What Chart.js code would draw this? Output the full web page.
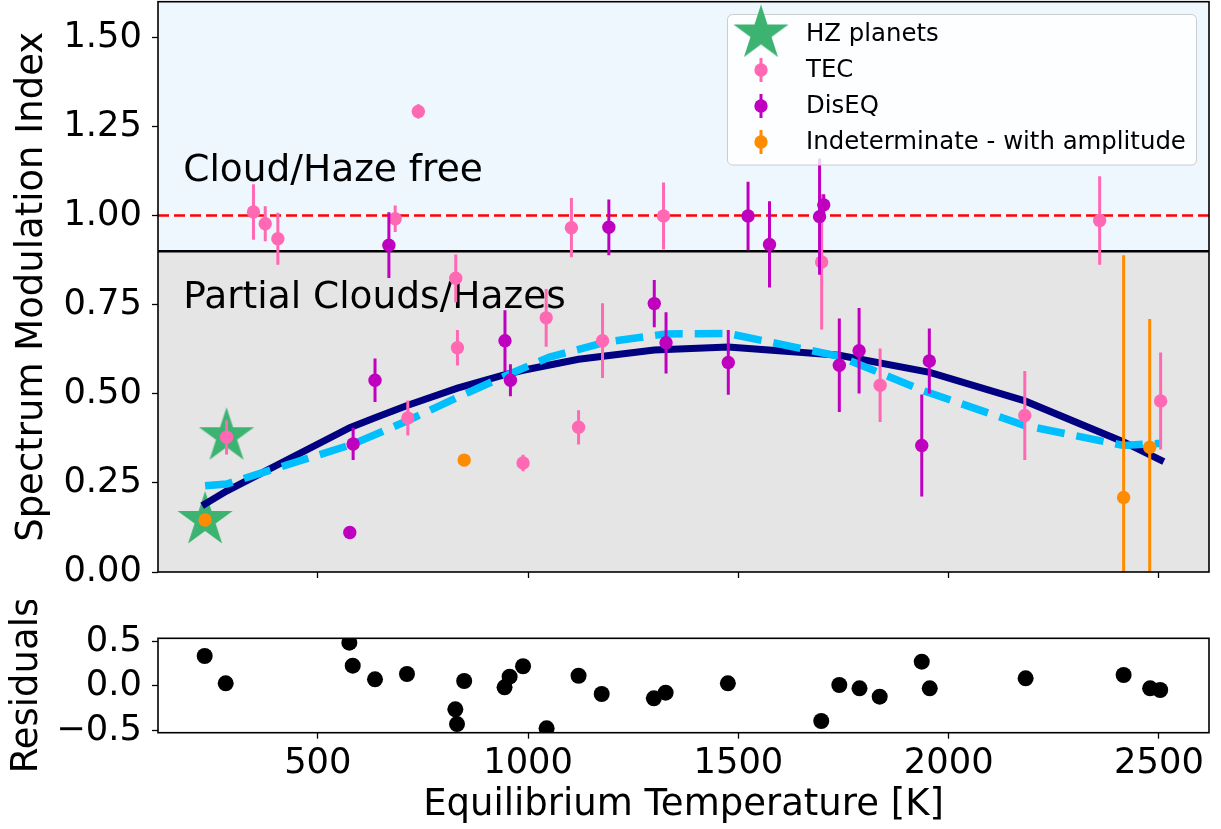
<!DOCTYPE html>
<html>
<head>
<meta charset="utf-8">
<script src="https://cdn.jsdelivr.net/npm/chart.js@4.4.1/dist/chart.umd.min.js"></script>
<style>
  body { margin: 0; background: #fff; }
  #top { position: absolute; left: 0; top: 0; }
  #bot { position: absolute; left: 0; top: 600px; }
</style>
</head>
<body>
<canvas id="top" width="1221" height="600"></canvas>
<canvas id="bot" width="1221" height="229"></canvas>
<script>
// ---- data ----
var xTicks = [500, 1000, 1500, 2000, 2500];
var yTicks = [0, 0.25, 0.5, 0.75, 1.0, 1.25, 1.5];
var resTicks = [-0.5, 0, 0.5];

// habitable-zone planets (stars)
var hzT = [232, 283];
var hzV = [0.146, 0.381];

// TEC
var tecT = [283, 347, 375, 405, 684, 714, 739, 828, 832, 988, 1043, 1103, 1120, 1177, 1322, 1698, 1837, 2181, 2359, 2504];
var tecV = [0.378, 1.010, 0.977, 0.935, 0.991, 0.432, 1.292, 0.824, 0.629, 0.306, 0.713, 0.966, 0.406, 0.649, 0.999, 0.870, 0.524, 0.439, 0.986, 0.480];
var tecErr = [0.048, 0.078, 0.049, 0.073, 0.037, 0.049, 0.02, 0.067, 0.05, 0.023, 0.081, 0.083, 0.048, 0.105, 0.094, 0.19, 0.103, 0.125, 0.124, 0.136];

// DisEQ
var disT = [576, 584, 636, 669, 945, 958, 1192, 1300, 1328, 1476, 1523, 1574, 1693, 1703, 1740, 1787, 1936, 1954];
var disV = [0.111, 0.359, 0.538, 0.917, 0.649, 0.538, 0.967, 0.753, 0.643, 0.588, 0.999, 0.919, 0.997, 1.030, 0.580, 0.621, 0.355, 0.592];
var disErr = [0, 0.045, 0.061, 0.092, 0.085, 0.045, 0.078, 0.066, 0.086, 0.091, 0.096, 0.121, 0.163, 0.03, 0.131, 0.12, 0.143, 0.091];

// Indeterminate - with amplitude
var indT = [232, 848, 2416, 2478];
var indV = [0.146, 0.314, 0.209, 0.350];
var indErr = [0, 0, 0.68, 0.36];

// fitted curve (solid) and smoothed trend (dashed)
var fitT = [232, 283, 576, 636, 714, 832, 945, 988, 1120, 1300, 1476, 1740, 1955, 2181, 2416, 2504];
var fitV = [0.191, 0.227, 0.405, 0.433, 0.468, 0.516, 0.554, 0.566, 0.597, 0.623, 0.631, 0.608, 0.560, 0.480, 0.365, 0.314];
var trendT = [232, 283, 584, 714, 832, 945, 1051, 1186, 1328, 1476, 1740, 1842, 1939, 2181, 2416, 2504];
var trendV = [0.242, 0.247, 0.359, 0.425, 0.490, 0.550, 0.603, 0.645, 0.668, 0.669, 0.605, 0.556, 0.509, 0.411, 0.355, 0.361];

// residuals
var resT = [231, 281, 575, 583, 636, 712, 827, 831, 848, 944, 956, 988, 1044, 1120, 1175, 1299, 1327, 1475, 1697, 1740, 1788, 1836, 1936, 1955, 2183, 2416, 2479, 2503];
var resV = [0.336, 0.03, 0.485, 0.227, 0.075, 0.134, -0.261, -0.426, 0.056, -0.015, 0.104, 0.221, -0.474, 0.115, -0.09, -0.138, -0.075, 0.03, -0.392, 0.011, -0.026, -0.12, 0.272, -0.026, 0.086, 0.123, -0.026, -0.045];

var cloudFreeCut = 0.9;
var unityLine = 1.0;

// ---- helpers ----
var FONT = 'DejaVu Sans';
Chart.defaults.font.family = FONT;
Chart.defaults.color = '#000';

function pts(xs, ys) {
  return xs.map(function (x, i) { return {x: x, y: ys[i]}; });
}

function makeStar(r, color) {
  var c = document.createElement('canvas');
  var s = Math.ceil(r * 2 + 2);
  c.width = s; c.height = s;
  var g = c.getContext('2d');
  g.fillStyle = color;
  g.beginPath();
  for (var i = 0; i < 10; i++) {
    var rad = i % 2 ? r * 0.382 : r;
    var a = -Math.PI / 2 + i * Math.PI / 5;
    g.lineTo(s / 2 + rad * Math.cos(a), s / 2 + rad * Math.sin(a));
  }
  g.closePath();
  g.fill();
  return c;
}

var starImg = makeStar(29, '#3cb371');
var MARKER_R = 6.7;

function fixedTicks(list) {
  return function (s) { s.ticks = list.map(function (v) { return {value: v}; }); };
}

// force an axis box size and drop the label overhang padding
function fixSize(w, h) {
  return function (s) {
    if (w !== null) s.width = w;
    if (h !== null) s.height = h;
    s.paddingTop = 0; s.paddingBottom = 0; s.paddingLeft = 0; s.paddingRight = 0;
  };
}

// error bars drawn just before the dataset's markers
var errorBars = {
  id: 'errorBars',
  beforeDatasetDraw: function (chart, args) {
    var ds = chart.data.datasets[args.index];
    if (!ds.errors) return;
    var ctx = chart.ctx, a = chart.chartArea, x = chart.scales.x, y = chart.scales.y;
    ctx.save();
    ctx.beginPath();
    ctx.rect(a.left, a.top, a.right - a.left, a.bottom - a.top);
    ctx.clip();
    ctx.strokeStyle = ds.backgroundColor;
    ctx.lineWidth = 3;
    ds.data.forEach(function (p, i) {
      var e = ds.errors[i];
      if (!e) return;
      var px = x.getPixelForValue(p.x);
      ctx.beginPath();
      ctx.moveTo(px, y.getPixelForValue(p.y - e));
      ctx.lineTo(px, y.getPixelForValue(p.y + e));
      ctx.stroke();
    });
    ctx.restore();
  }
};

// shaded regions, reference lines and region labels
var regions = {
  id: 'regions',
  beforeDatasetsDraw: function (chart) {
    var ctx = chart.ctx, a = chart.chartArea, x = chart.scales.x, y = chart.scales.y;
    var yCut = y.getPixelForValue(cloudFreeCut);
    ctx.save();
    ctx.fillStyle = '#eff7fe';
    ctx.fillRect(a.left, a.top, a.right - a.left, yCut - a.top);
    ctx.fillStyle = '#e5e5e5';
    ctx.fillRect(a.left, yCut, a.right - a.left, a.bottom - yCut);

    var yOne = y.getPixelForValue(unityLine);
    ctx.strokeStyle = '#ff0000';
    ctx.lineWidth = 2.6;
    ctx.setLineDash([11, 5]);
    ctx.beginPath();
    ctx.moveTo(a.left, yOne);
    ctx.lineTo(a.right, yOne);
    ctx.stroke();
    ctx.setLineDash([]);

    ctx.strokeStyle = '#000';
    ctx.lineWidth = 2.6;
    ctx.beginPath();
    ctx.moveTo(a.left, yCut);
    ctx.lineTo(a.right, yCut);
    ctx.stroke();

    ctx.fillStyle = '#000';
    ctx.font = '37.5px "' + FONT + '"';
    ctx.textBaseline = 'alphabetic';
    ctx.textAlign = 'left';
    ctx.fillText('Cloud/Haze free', x.getPixelForValue(180), y.getPixelForValue(1.098));
    ctx.fillText('Partial Clouds/Hazes', x.getPixelForValue(180), y.getPixelForValue(0.74));
    ctx.restore();
  }
};

function roundRect(ctx, x, y, w, h, r) {
  ctx.beginPath();
  ctx.moveTo(x + r, y);
  ctx.arcTo(x + w, y, x + w, y + h, r);
  ctx.arcTo(x + w, y + h, x, y + h, r);
  ctx.arcTo(x, y + h, x, y, r);
  ctx.arcTo(x, y, x + w, y, r);
  ctx.closePath();
}

var legendBox = {
  id: 'legendBox',
  afterDatasetsDraw: function (chart) {
    var ctx = chart.ctx;
    ctx.save();
    roundRect(ctx, 727.5, 14.5, 469, 150.5, 5);
    ctx.fillStyle = 'rgba(255,255,255,0.8)';
    ctx.fill();
    ctx.strokeStyle = '#cccccc';
    ctx.lineWidth = 1;
    ctx.stroke();

    var rowsY = [33.5, 70, 106, 142];
    var mx = 761;
    ctx.font = '24.4px "' + FONT + '"';
    ctx.textBaseline = 'middle';
    ctx.fillStyle = '#000';
    chart.data.datasets.forEach(function (ds) {
      if (ds.legendRow === undefined) return;
      var yy = rowsY[ds.legendRow];
      if (ds.pointStyle === starImg) {
        ctx.drawImage(starImg, mx - starImg.width / 2, yy - starImg.height / 2);
      } else {
        ctx.strokeStyle = ds.backgroundColor;
        ctx.lineWidth = 3;
        ctx.beginPath();
        ctx.moveTo(mx, yy - 12);
        ctx.lineTo(mx, yy + 12);
        ctx.stroke();
        ctx.fillStyle = ds.backgroundColor;
        ctx.beginPath();
        ctx.arc(mx, yy, MARKER_R, 0, Math.PI * 2);
        ctx.fill();
      }
      ctx.fillStyle = '#000';
      ctx.fillText(ds.label, 806, yy + 1);
    });
    ctx.restore();
  }
};

var frame = {
  id: 'frame',
  afterDraw: function (chart) {
    var ctx = chart.ctx, a = chart.chartArea;
    ctx.save();
    ctx.strokeStyle = '#000';
    ctx.lineWidth = 1.6;
    ctx.strokeRect(a.left, a.top, a.right - a.left, a.bottom - a.top);
    ctx.restore();
  }
};

var xMin = 120, xMax = 2619;
var tickFont = {size: 35.3, family: FONT};
var titleFont = {size: 37, family: FONT, lineHeight: 1.2};
var axisGrid = {drawOnChartArea: false, drawTicks: true, tickLength: 6, color: '#000', tickColor: '#000', tickWidth: 1.3};

// ---- main panel ----
new Chart(document.getElementById('top'), {
  type: 'scatter',
  data: {
    datasets: [
      {label: 'HZ planets', legendRow: 0, data: pts(hzT, hzV), pointStyle: starImg, pointRadius: 29, order: 6, clip: 0},
      {type: 'line', label: 'fit', data: pts(fitT, fitV), borderColor: '#000080', borderWidth: 7,
        pointRadius: 0, fill: false, tension: 0, borderCapStyle: 'square', order: 5, clip: 0},
      {type: 'line', label: 'trend', data: pts(trendT, trendV), borderColor: '#00bfff', borderWidth: 7.5,
        borderDash: [27.75, 12], pointRadius: 0, fill: false, tension: 0, order: 4, clip: 0},
      {label: 'TEC', legendRow: 1, data: pts(tecT, tecV), errors: tecErr, backgroundColor: '#ff69b4',
        pointRadius: MARKER_R, pointBorderWidth: 0, order: 3, clip: 0},
      {label: 'DisEQ', legendRow: 2, data: pts(disT, disV), errors: disErr, backgroundColor: '#bf00bf',
        pointRadius: MARKER_R, pointBorderWidth: 0, order: 2, clip: 0},
      {label: 'Indeterminate - with amplitude', legendRow: 3, data: pts(indT, indV), errors: indErr,
        backgroundColor: '#ff8c00', pointRadius: MARKER_R, pointBorderWidth: 0, order: 1, clip: 0}
    ]
  },
  options: {
    responsive: false,
    animation: false,
    devicePixelRatio: 1,
    events: [],
    layout: {autoPadding: false, padding: {top: 1.7, right: 12, left: 0, bottom: 0}},
    plugins: {legend: {display: false}, tooltip: {enabled: false}},
    scales: {
      x: {
        type: 'linear', min: xMin, max: xMax,
        afterBuildTicks: fixedTicks(xTicks),
        ticks: {display: false},
        grid: axisGrid,
        border: {display: false},
        afterFit: fixSize(null, 28)
      },
      y: {
        type: 'linear', min: 0, max: 1.6,
        afterBuildTicks: fixedTicks(yTicks),
        ticks: {font: tickFont, color: '#000', padding: 10, callback: function (v) { return v.toFixed(2); }},
        grid: axisGrid,
        border: {display: false},
        title: {display: true, text: 'Spectrum Modulation Index', font: titleFont, color: '#000', padding: {top: 9.8, bottom: 0}},
        afterFit: fixSize(158, null)
      }
    }
  },
  plugins: [regions, errorBars, legendBox, frame]
});

// ---- residual panel ----
new Chart(document.getElementById('bot'), {
  type: 'scatter',
  data: {
    datasets: [
      {label: 'Residuals', data: pts(resT, resV), backgroundColor: '#000', pointRadius: 8, pointBorderWidth: 0, clip: 0}
    ]
  },
  options: {
    responsive: false,
    animation: false,
    devicePixelRatio: 1,
    events: [],
    layout: {autoPadding: false, padding: {top: 38.3, right: 12, left: 0, bottom: 0}},
    plugins: {legend: {display: false}, tooltip: {enabled: false}},
    scales: {
      x: {
        type: 'linear', min: xMin, max: xMax,
        afterBuildTicks: fixedTicks(xTicks),
        ticks: {font: tickFont, color: '#000', padding: 4, maxRotation: 0, autoSkip: false,
          callback: function (v) { return String(v); }},
        grid: axisGrid,
        border: {display: false},
        title: {display: true, text: 'Equilibrium Temperature [K]', font: titleFont, color: '#000', padding: {top: 0, bottom: 1.8}},
        afterFit: fixSize(null, 96.3)
      },
      y: {
        type: 'linear', min: -0.523, max: 0.534,
        afterBuildTicks: fixedTicks(resTicks),
        ticks: {font: tickFont, color: '#000', padding: 10,
          callback: function (v) { return (v < 0 ? '\u2212' : '') + Math.abs(v).toFixed(1); }},
        grid: axisGrid,
        border: {display: false},
        title: {display: true, text: 'Residuals', font: titleFont, color: '#000', padding: {top: 4.8, bottom: 0}},
        afterFit: fixSize(158, null)
      }
    }
  },
  plugins: [frame]
});
</script>
</body>
</html>
